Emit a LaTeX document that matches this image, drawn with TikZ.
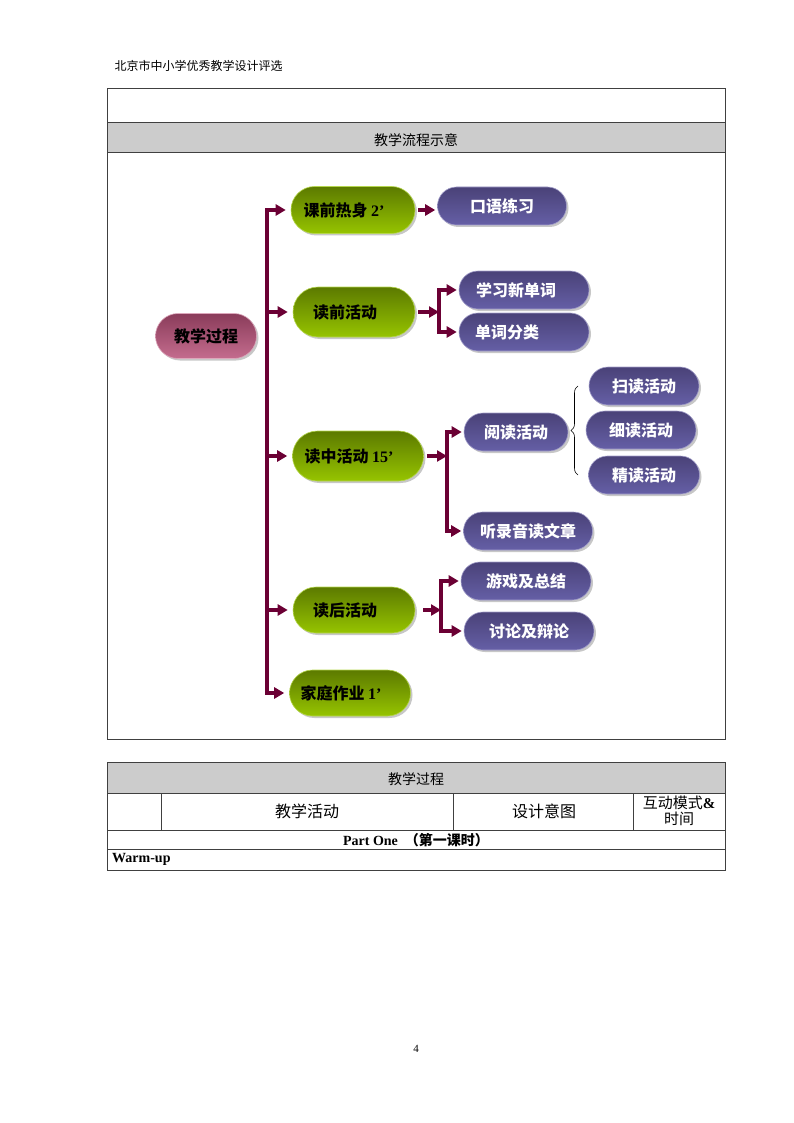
\documentclass[tikz,border=0pt]{standalone}
\usepackage{fontspec}
\setmainfont{Liberation Serif}
\newfontfamily\zhfont{Noto Sans CJK SC}
\usetikzlibrary{arrows.meta,shapes.misc,decorations.pathreplacing}

\definecolor{wine}{HTML}{6B0034}
\definecolor{olivetop}{HTML}{5C7A00}
\definecolor{olivebot}{HTML}{96C400}
\definecolor{slatetop}{HTML}{4A4278}
\definecolor{slatebot}{HTML}{655FA6}
\definecolor{rosetop}{HTML}{8A3C5A}
\definecolor{rosebot}{HTML}{C46C8E}
\definecolor{cellgray}{HTML}{CCCCCC}

\newcommand\lat[1]{{\rmfamily #1}}

\tikzset{
  pill/.style={rounded rectangle, inner sep=0pt,
    font=\zhfont\bfseries\fontsize{16}{19}\selectfont,
    preaction={fill=black!22, transform canvas={xshift=2pt,yshift=-2pt}}},
  greenbox/.style={pill, top color=olivetop, bottom color=olivebot,
    draw=olivebot!70!white, line width=.6pt, text=black,
    execute at end node={\hspace*{18pt}}},
  violetbox/.style={pill, top color=slatetop, bottom color=slatebot,
    draw=slatebot!60!white, line width=.6pt, text=white},
  rootbox/.style={pill, top color=rosetop, bottom color=rosebot,
    draw=rosebot!60!white, line width=.6pt, text=black},
  wire/.style={draw=wine, line width=3.2pt, line cap=rect},
  flow/.style={draw=wine, line width=3.2pt, -{Triangle[length=10pt,width=11pt]}},
  brc/.style={draw=black, line width=.6pt, decorate, decoration={brace, amplitude=7pt}},
  cell/.style={draw=black!75, line width=.8pt},
  celltext/.style={font=\zhfont\fontsize{14}{16}\selectfont, inner sep=0pt},
}

\begin{document}
\begin{tikzpicture}[x=1pt,y=-1pt]
\useasboundingbox (0,0) rectangle (794,1123);

% page head
\node[anchor=west, font=\zhfont\fontsize{12}{14}\selectfont] (head) at (111,66) {北京市中小学优秀教学设计评选};

% flow table
\draw[cell] (107,88) rectangle (725,739);
\draw[cell, fill=cellgray] (107,122) rectangle (725,152);
\node[celltext] (flowtitle) at (416,140) {教学流程示意};

% main pill and steps
\node[rootbox, minimum width=101pt, minimum height=45pt] (root) at (206,336) {教学过程};
\foreach \n/\x/\y/\w/\h/\t in {k1/353/210/124/47/{课前热身 \lat{2’}},
                              k2/354/312/122/50/{读前活动},
                              k3/358/456/131/50/{读中活动 \lat{15’}},
                              k4/354/610/122/46/{读后活动},
                              k5/350/693/121/46/{家庭作业 \lat{1’}}}
  \node[greenbox, minimum width=\w pt, minimum height=\h pt] (\n) at (\x,\y) {\t};
\foreach \n/\x/\y/\w/\t in {p1/502/206/129/{口语练习},
                           p2/524/290/130/{学习新单词\hspace*{16pt}},
                           p3/524/332/130/{单词分类\hspace*{34pt}},
                           p4/516/432/104/{阅读活动},
                           p5/644/386/110/{扫读活动},
                           p6/641/430/110/{细读活动},
                           p7/644/475/111/{精读活动},
                           p8/528/531/129/{听录音读文章},
                           p9/526/581/130/{游戏及总结},
                           p10/529/631/130/{讨论及辩论}}
  \node[violetbox, minimum width=\w pt, minimum height=38pt] (\n) at (\x,\y) {\t};

% trunk
\coordinate (trunk) at (267,0);
\draw[wire] (trunk |- k1.west) -- (trunk |- k5.west);
\foreach \k in {k1,k2,k3,k4,k5}
  \draw[flow, shorten >=5pt] (trunk |- \k.west) -- (\k.west);

% second level
\draw[flow, shorten <=3pt, shorten >=2pt] (k1.east) -- (k1.east -| p1.west);
\coordinate (f2) at (439,0);
\coordinate (f3) at (447,0);
\coordinate (f4) at (441,0);
\draw[flow, shorten <=3pt] (k2.east) -- (k2.east -| f2);
\draw[flow, shorten <=3pt] (k3.east) -- (k3.east -| f3);
\draw[flow, shorten <=8pt] (k4.east) -- (k4.east -| f4);
\draw[wire] (f2 |- p2.west) -- (f2 |- p3.west);
\draw[wire] (f3 |- p4.west) -- (f3 |- p8.west);
\draw[wire] (f4 |- p9.west) -- (f4 |- p10.west);
\foreach \f/\p in {f2/p2,f2/p3,f3/p4,f3/p8,f4/p9,f4/p10}
  \draw[flow, shorten >=2pt] (\f |- \p.west) -- (\p.west);

% brace
\coordinate (bx) at (578,0);
\draw[brc] (bx |- p7) -- (bx |- p5);

% lesson table
\draw[cell, fill=cellgray] (107,762) rectangle (725,793);
\draw[cell] (107,762) rectangle (725,870);
\draw[cell] (107,830) -- (725,830) (107,849) -- (725,849);
\foreach \x in {161,453,633}
  \draw[cell] (\x,793) -- (\x,830);
\node[celltext] (lessontitle) at (416,779) {教学过程};
\node[celltext, font=\zhfont\fontsize{16}{18}\selectfont] (colact) at (307,811) {教学活动};
\node[celltext, font=\zhfont\fontsize{16}{18}\selectfont] (colaim) at (544,811) {设计意图};
\node[celltext, align=center, font=\zhfont\fontsize{15}{16}\selectfont] (colmode) at (679,811) {互动模式\lat{\textbf{\&}}\\时间};
\node[celltext, font=\bfseries\fontsize{14}{16}\selectfont] (partone) at (416,840) {Part One \ {\zhfont （第一课时）}};
\node[celltext, anchor=west, font=\bfseries\fontsize{14}{16}\selectfont] (warmup) at (112,859) {Warm-up};

% page number
\node[font=\fontsize{11}{13}\selectfont] (pageno) at (416,1049) {4};
\end{tikzpicture}
\end{document}
